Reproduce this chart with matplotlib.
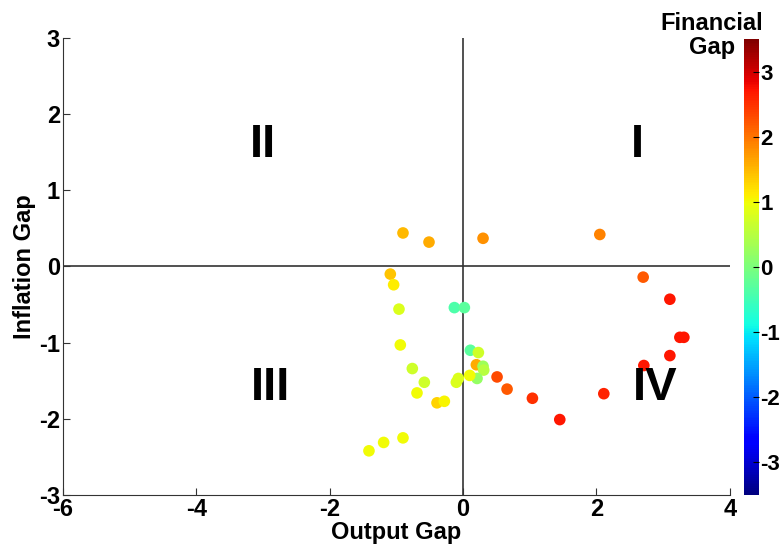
import numpy as np
import matplotlib
matplotlib.use("Agg")
import matplotlib.pyplot as plt

plt.rcParams['font.family'] = ['Liberation Sans', 'DejaVu Sans']
plt.rcParams['font.weight'] = 'bold'
plt.rcParams['axes.unicode_minus'] = False

# gaps
output_gap = [-0.90, -0.51, 0.30, 2.05, -1.09, -1.04, -0.96, -0.13, 0.02, -0.94,
              2.70, 3.10, 3.25, 3.31, 3.10, 2.71, 2.11, 1.45, 1.04, 0.66,
              0.51, 0.11, 0.23, 0.20, 0.30, 0.31, 0.21, 0.10, -0.07, -0.10,
              -0.76, -0.58, -0.69, -0.39, -0.28, -1.41, -1.19, -0.90]
inflation_gap = [0.44, 0.32, 0.37, 0.42, -0.10, -0.24, -0.56, -0.54, -0.54, -1.03,
                 -0.14, -0.43, -0.93, -0.93, -1.17, -1.30, -1.67, -2.01, -1.73, -1.61,
                 -1.45, -1.10, -1.13, -1.29, -1.31, -1.36, -1.47, -1.43, -1.47, -1.52,
                 -1.34, -1.52, -1.66, -1.79, -1.77, -2.42, -2.31, -2.25]
financial_gap = [1.5, 1.6, 1.8, 1.9, 1.4, 1.1, 0.8, -0.4, -0.3, 1.0,
                 2.2, 2.7, 2.7, 2.7, 2.7, 2.7, 2.6, 2.7, 2.5, 2.2,
                 2.3, -0.3, 0.7, 1.6, 0.3, 0.5, 0.2, 1.0, 0.8, 0.8,
                 0.7, 0.7, 1.0, 1.3, 1.05, 1.0, 1.0, 1.0]

quadrants = ['I', 'II', 'III', 'IV']
quad_x = [2.62, -3.0, -2.88, 2.88]
quad_y = [1.6, 1.6, -1.59, -1.59]

fig = plt.figure(figsize=(7.84, 5.5), dpi=100)
ax = fig.add_axes([0.080, 0.100, 0.851, 0.831])

ax.axhline(0, color='#333333', lw=1.2, zorder=1)
ax.axvline(0, color='#333333', lw=1.2, zorder=1)

sc = ax.scatter(output_gap, inflation_gap, c=financial_gap, cmap='jet',
                vmin=-3.5, vmax=3.5, s=70, edgecolors='none', zorder=3)

for q, qx, qy in zip(quadrants, quad_x, quad_y):
    ax.text(qx, qy, q, fontsize=34, fontweight='bold', ha='center', va='center')

ax.set_xlim(-6, 4)
ax.set_ylim(-3, 3)
ax.set_xticks([-6, -4, -2, 0, 2, 4])
ax.set_yticks([-3, -2, -1, 0, 1, 2, 3])
ax.spines['top'].set_visible(False)
ax.spines['right'].set_visible(False)
ax.spines['left'].set_color('#333333')
ax.spines['bottom'].set_color('#333333')
ax.tick_params(direction='in', length=5, labelsize=17, pad=2, color='#333333')
for lab in ax.get_xticklabels() + ax.get_yticklabels():
    lab.set_fontweight('bold')
ax.set_xlabel('Output Gap', fontsize=17, fontweight='bold', labelpad=0)
ax.set_ylabel('Inflation Gap', fontsize=17, fontweight='bold', labelpad=2)

cax = fig.add_axes([0.949, 0.100, 0.019, 0.829])
cb = fig.colorbar(sc, cax=cax, ticks=[-3, -2, -1, 0, 1, 2, 3])
cb.outline.set_visible(False)
cax.tick_params(direction='in', length=4, labelsize=16, pad=1)
for lab in cax.get_yticklabels():
    lab.set_fontweight('bold')
fig.text(0.908, 0.936, 'Financial\nGap', fontsize=17, fontweight='bold',
         ha='center', va='center', multialignment='center', linespacing=1.05)

fig.savefig('out.png', dpi=100)
